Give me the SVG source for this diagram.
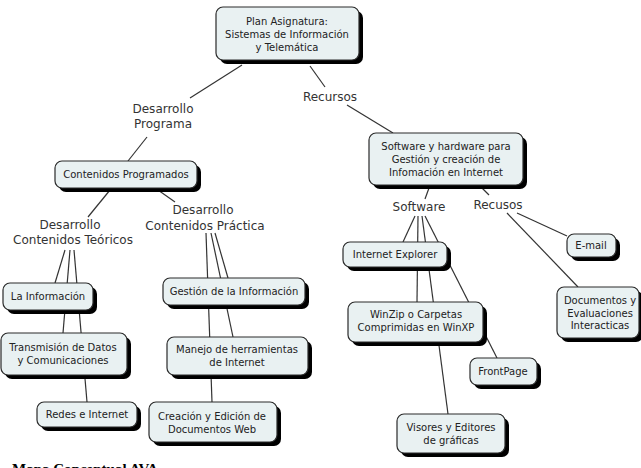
<svg xmlns="http://www.w3.org/2000/svg" width="641" height="468" viewBox="0 0 641 468">
<defs>
<style>
.sh{fill:#000}
.bx{fill:#e9f1f2;stroke:#2a2a2a;stroke-width:1.2}
.nt{font-family:"DejaVu Sans",Verdana,sans-serif;font-size:10px;fill:#222;text-anchor:middle}
.lb{font-family:"DejaVu Sans",Verdana,sans-serif;font-size:12px;fill:#333;text-anchor:middle}
.cn line{stroke:#333;stroke-width:1.2}
</style>
</defs>
<rect width="641" height="468" fill="#fff"/>
<g class="cn" id="connectors">
<line x1="242" y1="65" x2="190" y2="98"/>
<line x1="147" y1="137" x2="128" y2="161"/>
<line x1="310" y1="66" x2="325" y2="87"/>
<line x1="347" y1="105" x2="393" y2="133"/>
<line x1="110" y1="190" x2="88" y2="217"/>
<line x1="158" y1="190" x2="175" y2="202"/>
<line x1="65" y1="250" x2="55" y2="283"/>
<line x1="70" y1="250" x2="63" y2="333"/>
<line x1="74" y1="250" x2="87" y2="402"/>
<line x1="215" y1="233" x2="228" y2="278"/>
<line x1="211" y1="233" x2="233" y2="337"/>
<line x1="206" y1="233" x2="212" y2="402"/>
<line x1="429" y1="188" x2="425" y2="199"/>
<line x1="482" y1="188" x2="489" y2="195"/>
<line x1="415" y1="216" x2="403" y2="242"/>
<line x1="418" y1="216" x2="417" y2="302"/>
<line x1="422" y1="216" x2="448" y2="414"/>
<line x1="425" y1="216" x2="497" y2="358"/>
<line x1="517" y1="213" x2="567" y2="236"/>
<line x1="507" y1="213" x2="578" y2="287"/>
</g>
<g id="lbl-desarrollo-programa"><text class="lb" x="163" y="113">Desarrollo</text><text class="lb" x="163" y="128">Programa</text></g>
<g id="lbl-recursos"><text class="lb" x="330" y="101">Recursos</text></g>
<g id="lbl-teoricos"><text class="lb" x="70" y="229">Desarrollo</text><text class="lb" x="73" y="244">Contenidos Teóricos</text></g>
<g id="lbl-practica"><text class="lb" x="203" y="214">Desarrollo</text><text class="lb" x="205" y="230">Contenidos Práctica</text></g>
<g id="lbl-software"><text class="lb" x="419" y="211">Software</text></g>
<g id="lbl-recusos"><text class="lb" x="498" y="209">Recusos</text></g>
<g id="n-main"><rect class="sh" x="220" y="11" width="143" height="53" rx="7"/><rect class="bx" x="216" y="7" width="143" height="53" rx="7"/><text class="nt" x="287" y="25">Plan Asignatura:</text><text class="nt" x="287" y="38">Sistemas de Información</text><text class="nt" x="287" y="51">y Telemática</text></g>
<g id="n-cprog"><rect class="sh" x="59" y="165" width="142" height="27" rx="7"/><rect class="bx" x="55" y="161" width="142" height="27" rx="7"/><text class="nt" x="126" y="178">Contenidos Programados</text></g>
<g id="n-shw"><rect class="sh" x="373" y="137" width="154" height="52" rx="7"/><rect class="bx" x="369" y="133" width="154" height="52" rx="7"/><text class="nt" x="446" y="150">Software y hardware para</text><text class="nt" x="446" y="163">Gestión y creación de</text><text class="nt" x="446" y="176">Infomación en Internet</text></g>
<g id="n-lainf"><rect class="sh" x="7" y="287" width="90" height="27" rx="7"/><rect class="bx" x="3" y="283" width="90" height="27" rx="7"/><text class="nt" x="48" y="300">La Información</text></g>
<g id="n-trans"><rect class="sh" x="5" y="337" width="126" height="42" rx="7"/><rect class="bx" x="1" y="333" width="126" height="42" rx="7"/><text class="nt" x="63" y="351">Transmisión de Datos</text><text class="nt" x="63" y="364">y Comunicaciones</text></g>
<g id="n-redes"><rect class="sh" x="41" y="406" width="100" height="25" rx="7"/><rect class="bx" x="37" y="402" width="100" height="25" rx="7"/><text class="nt" x="87" y="418">Redes e Internet</text></g>
<g id="n-gestion"><rect class="sh" x="167" y="282" width="142" height="27" rx="7"/><rect class="bx" x="163" y="278" width="142" height="27" rx="7"/><text class="nt" x="234" y="295">Gestión de la Información</text></g>
<g id="n-manejo"><rect class="sh" x="171" y="341" width="141" height="38" rx="7"/><rect class="bx" x="167" y="337" width="141" height="38" rx="7"/><text class="nt" x="237" y="353">Manejo de herramientas</text><text class="nt" x="237" y="366">de Internet</text></g>
<g id="n-creacion"><rect class="sh" x="153" y="406" width="128" height="40" rx="7"/><rect class="bx" x="149" y="402" width="128" height="40" rx="7"/><text class="nt" x="212" y="420">Creación y Edición de</text><text class="nt" x="212" y="433">Documentos Web</text></g>
<g id="n-ie"><rect class="sh" x="347" y="246" width="104" height="25" rx="7"/><rect class="bx" x="343" y="242" width="104" height="25" rx="7"/><text class="nt" x="395" y="258">Internet Explorer</text></g>
<g id="n-winzip"><rect class="sh" x="352" y="306" width="135" height="40" rx="7"/><rect class="bx" x="348" y="302" width="135" height="40" rx="7"/><text class="nt" x="416" y="318">WinZip o Carpetas</text><text class="nt" x="416" y="331">Comprimidas en WinXP</text></g>
<g id="n-frontpage"><rect class="sh" x="474" y="362" width="67" height="27" rx="7"/><rect class="bx" x="470" y="358" width="67" height="27" rx="7"/><text class="nt" x="503" y="375">FrontPage</text></g>
<g id="n-visores"><rect class="sh" x="401" y="418" width="108" height="39" rx="7"/><rect class="bx" x="397" y="414" width="108" height="39" rx="7"/><text class="nt" x="451" y="431">Visores y Editores</text><text class="nt" x="451" y="444">de gráficas</text></g>
<g id="n-email"><rect class="sh" x="571" y="238" width="49" height="23" rx="7"/><rect class="bx" x="567" y="234" width="49" height="23" rx="7"/><text class="nt" x="591" y="249">E-mail</text></g>
<g id="n-documentos"><rect class="sh" x="561" y="291" width="82" height="51" rx="7"/><rect class="bx" x="557" y="287" width="82" height="51" rx="7"/><text class="nt" x="600" y="304">Documentos y</text><text class="nt" x="600" y="317">Evaluaciones</text><text class="nt" x="600" y="329">Interacticas</text></g>
<g id="caption"><text x="12" y="474" font-family="'Liberation Serif','Times New Roman',serif" font-size="15" font-weight="bold" fill="#000">Mapa Conceptual AVA</text></g>
</svg>
